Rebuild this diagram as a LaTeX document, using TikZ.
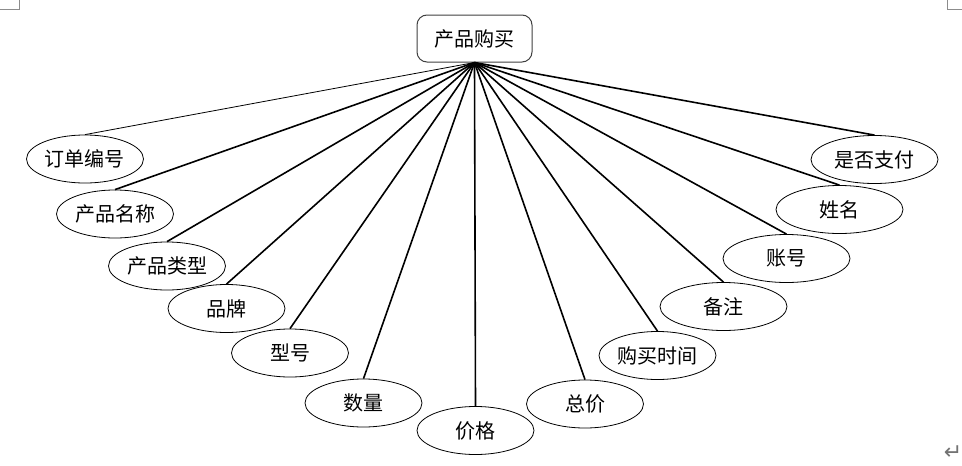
\documentclass[tikz,border=0pt]{standalone}
\usepackage{fontspec}
\setmainfont{Noto Sans CJK SC}
\newfontfamily\symfont{DejaVu Sans}
\usetikzlibrary{shapes.geometric}

\begin{document}
\begin{tikzpicture}[x=1pt, y=-1pt,
        entity/.style={rectangle, rounded corners=10pt, draw=black!75, line width=1pt, fill=white, minimum width=115pt, minimum height=47pt, font=\fontsize{20}{22}\selectfont},
        attr/.style={ellipse, draw=black, line width=0.8pt, fill=white, inner sep=0pt, minimum width=117pt, minimum height=48pt, font=\fontsize{20}{22}\selectfont},
        wide/.style={minimum width=127pt},
        link/.style={line width=1.6pt},
        marks/.style={draw=black!45, line width=0.8pt}]
        \useasboundingbox (0,0) rectangle (962,466);

        % Word page corner marks
        \draw[marks] (0,9) -- (19,9) -- (19,0);
        \draw[marks] (947,0) -- (947,9) -- (962,9);
        \node[text=black!55, inner sep=0pt, font=\symfont\fontsize{22}{22}\selectfont] (ret) at (953,453) {↵};

        \node[entity] (buy) at (474.5,38.5) {产品购买};

        % left side
        \node[attr] (order) at (85,159) {订单编号};
        \node[attr] (pname) at (115,214) {产品名称};
        \node[attr] (ptype) at (167,266) {产品类型};
        \node[attr] (brand) at (226.5,308.5) {品牌};
        \node[attr] (model) at (290,353) {型号};
        \node[attr] (qty) at (363.5,403) {数量};
        \node[attr] (price) at (475.5,430.5) {价格};

        % right side
        \node[attr] (total) at (585,404) {总价};
        \node[attr] (time) at (657.5,355.5) {购买时间};
        \node[attr, wide] (note) at (723.5,306.5) {备注};
        \node[attr, wide] (acct) at (786.5,258.5) {账号};
        \node[attr, wide] (uname) at (839.5,209.5) {姓名};
        \node[attr, wide] (paid) at (874.5,159.5) {是否支付};

        \path[line width=0.8pt] (buy.south) edge (order.north);
        \path[link]
        (buy.south) edge (pname.north)
        (buy.south) edge (ptype.north)
        (buy.south) edge (brand.north)
        (buy.south) edge (model.north)
        (buy.south) edge (qty.north)
        (buy.south) edge (price.north)
        (buy.south) edge (total.north)
        (buy.south) edge (time.north)
        (buy.south) edge (note.north)
        (buy.south) edge (acct.north)
        (buy.south) edge (uname.north)
        (buy.south) edge (paid.north);
    \end{tikzpicture}
\end{document}
